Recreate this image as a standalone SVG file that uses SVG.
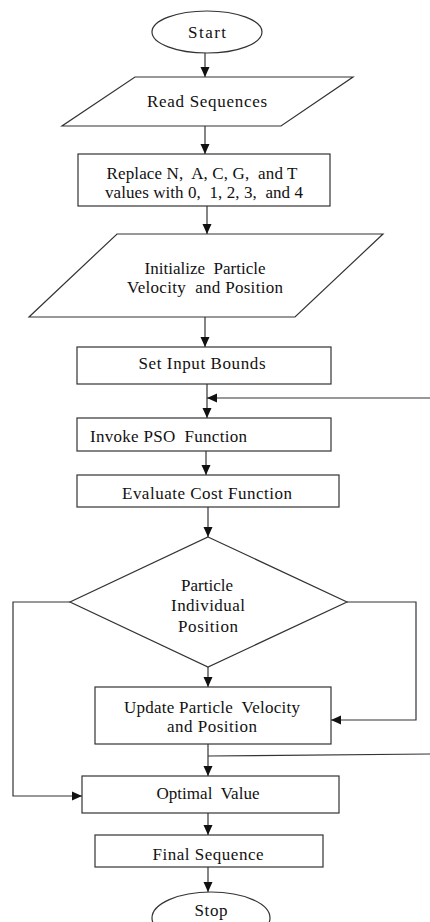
<svg xmlns="http://www.w3.org/2000/svg" width="430" height="922" viewBox="0 0 430 922">
<style>
.s{fill:#fff;stroke:#333;stroke-width:1.2}
.c{fill:none;stroke:#333;stroke-width:1.2}
text{font-family:"Liberation Serif","Times New Roman",serif;font-size:17px;fill:#111;text-anchor:middle;white-space:pre}
</style>
<defs>
<marker id="a" markerUnits="userSpaceOnUse" markerWidth="10" markerHeight="10" viewBox="0 0 10 10" refX="10" refY="5" orient="auto">
<path d="M0,0.5 L10,5 L0,9.5 z" fill="#111"/>
</marker>
</defs>
<g id="connectors" class="c">
<line x1="205" y1="53" x2="205" y2="77" marker-end="url(#a)"/>
<line x1="205" y1="126" x2="205" y2="154" marker-end="url(#a)"/>
<line x1="207" y1="206" x2="207" y2="234" marker-end="url(#a)"/>
<line x1="205" y1="317" x2="205" y2="347" marker-end="url(#a)"/>
<line x1="207" y1="384" x2="207" y2="418" marker-end="url(#a)"/>
<line x1="430" y1="398" x2="207" y2="398" marker-end="url(#a)"/>
<line x1="206" y1="451" x2="206" y2="475" marker-end="url(#a)"/>
<line x1="208" y1="507" x2="208" y2="537" marker-end="url(#a)"/>
<polyline points="70,602 13,602 13,796 82,796" marker-end="url(#a)"/>
<polyline points="347,602 416,602 416,720 331,720" marker-end="url(#a)"/>
<line x1="208" y1="667" x2="208" y2="687" marker-end="url(#a)"/>
<line x1="208" y1="744" x2="208" y2="776" marker-end="url(#a)"/>
<line x1="208" y1="756" x2="430" y2="754"/>
<line x1="208" y1="813" x2="208" y2="835" marker-end="url(#a)"/>
<line x1="208" y1="867" x2="208" y2="892" marker-end="url(#a)"/>
</g>
<g id="start"><ellipse class="s" cx="207" cy="32" rx="55" ry="21"/><text x="207" y="38" textLength="38">Start</text></g>
<g id="read"><polygon class="s" points="135,77 353,77 281,126 62,126"/><text x="207" y="107" textLength="120">Read Sequences</text></g>
<g id="replace"><rect class="s" x="78" y="154" width="252" height="52"/><text x="202" y="179" textLength="191">Replace N,  A, C, G,  and T</text><text x="204" y="198" textLength="198">values with 0,  1, 2, 3,  and 4</text></g>
<g id="init"><polygon class="s" points="117,234 383,234 295,317 29,317"/><text x="205" y="274" textLength="121">Initialize  Particle</text><text x="205" y="293" textLength="156">Velocity  and Position</text></g>
<g id="bounds"><rect class="s" x="77" y="347" width="254" height="37"/><text x="202" y="369" textLength="127">Set Input Bounds</text></g>
<g id="invoke"><rect class="s" x="77" y="418" width="254" height="33"/><text x="90" y="442" textLength="157" style="text-anchor:start">Invoke PSO  Function</text></g>
<g id="evaluate"><rect class="s" x="77" y="475" width="262" height="32"/><text x="207" y="499" textLength="170">Evaluate Cost Function</text></g>
<g id="decision"><polygon class="s" points="208,537 347,602 208,667 70,602"/><text x="207" y="591" textLength="52">Particle</text><text x="208" y="611" textLength="74">Individual</text><text x="208" y="632" textLength="60">Position</text></g>
<g id="update"><rect class="s" x="95" y="687" width="236" height="57"/><text x="212" y="713" textLength="176">Update Particle  Velocity</text><text x="212" y="732" textLength="90">and Position</text></g>
<g id="optimal"><rect class="s" x="82" y="776" width="257" height="37"/><text x="208" y="799" textLength="103">Optimal  Value</text></g>
<g id="final"><rect class="s" x="95" y="835" width="228" height="32"/><text x="208" y="860" textLength="111">Final Sequence</text></g>
<g id="stop"><ellipse class="s" cx="211" cy="918" rx="59" ry="26"/><text x="211" y="916" textLength="33">Stop</text></g>
</svg>
